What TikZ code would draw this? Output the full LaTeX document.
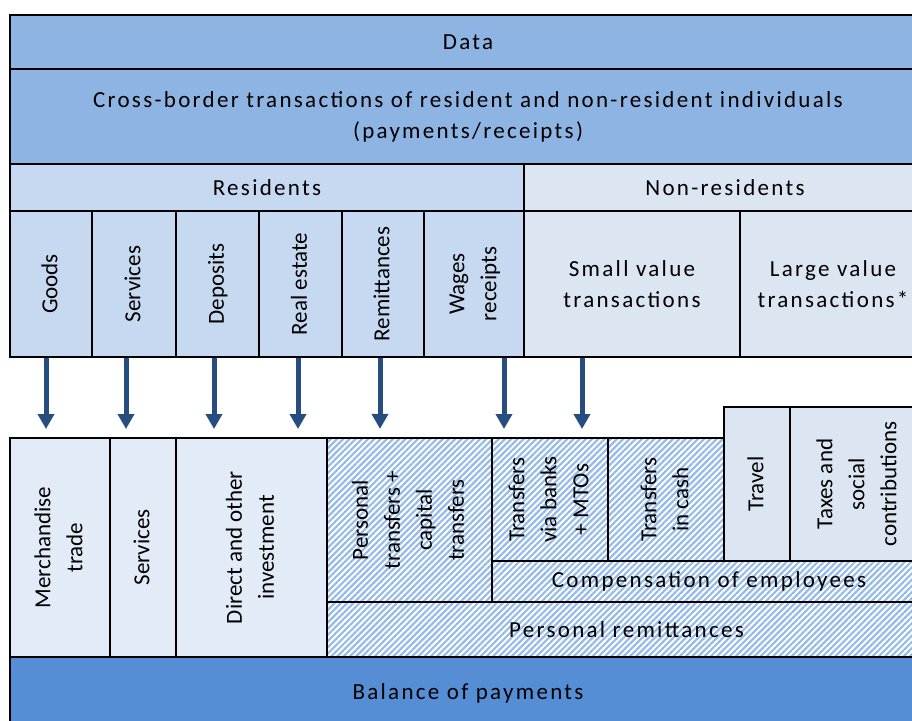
\documentclass[tikz,border=0pt]{standalone}
\usepackage{fontspec}
\setmainfont{Carlito}
\newfontfamily\spaced{Carlito}[LetterSpace=10]
\usepackage{graphicx}
\usetikzlibrary{arrows.meta, fit, patterns.meta}

\definecolor{topblue}{HTML}{8EB4E3}
\definecolor{resblue}{HTML}{C6D9F1}
\definecolor{nonblue}{HTML}{DCE6F2}
\definecolor{dotblue}{HTML}{E2EBF7}
\definecolor{hatchblue}{HTML}{96BBE8}
\definecolor{bopblue}{HTML}{558ED5}
\definecolor{arrowblue}{HTML}{264D80}

\newcommand{\vtext}[1]{\rotatebox{90}{\begin{tabular}{@{}c@{}}#1\end{tabular}}}

\tikzset{
  box/.style={draw, line width=1pt, inner sep=0pt},
  txt/.style={inner sep=0pt, font=\fontsize{11.5}{16}\selectfont},
  wide/.style={inner sep=0pt, align=center, font=\spaced\fontsize{11.5}{15.5}\selectfont},
  hatched/.style={box, preaction={fill=white},
    pattern={Lines[angle=45, distance=2.2pt, line width=1.1pt]}, pattern color=hatchblue},
  flow/.style={line width=2.5pt, draw=arrowblue,
    -{Triangle[width=8pt, length=7.5pt]}, shorten >=4pt}
}

\begin{document}
\begin{tikzpicture}[x=0.5pt, y=-0.5pt]
  \clip (0,0) rectangle (912,720);

  % data side
  \node[box, fill=topblue, fit={(10,15) (926,69)}] (data) {};
  \node[box, fill=topblue, fit={(10,69) (926,164)}] (cross) {};
  \node[box, fill=resblue, fit={(10,164) (524,211)}] (res) {};
  \node[box, fill=nonblue, fit={(524,164) (926,211)}] (nonres) {};
  \node[box, fill=resblue, fit={(10,211) (92,357)}] (goods) {};
  \node[box, fill=resblue, fit={(92,211) (176,357)}] (serv) {};
  \node[box, fill=resblue, fit={(176,211) (259,357)}] (depo) {};
  \node[box, fill=resblue, fit={(259,211) (342,357)}] (estate) {};
  \node[box, fill=resblue, fit={(342,211) (424,357)}] (remit) {};
  \node[box, fill=resblue, fit={(424,211) (524,357)}] (wages) {};
  \node[box, fill=nonblue, fit={(524,211) (740,357)}] (small) {};
  \node[box, fill=nonblue, fit={(740,211) (926,357)}] (large) {};

  \node[wide] (data-t) at (data) {Data};
  \node[wide] (cross-t) at (cross)
    {Cross-border transactions of resident and non-resident individuals\\(payments/receipts)};
  \node[wide] (res-t) at (res) {Residents};
  \node[wide] (nonres-t) at (nonres) {Non-residents};
  \node[txt] (goods-t) at (goods) {\vtext{Goods}};
  \node[txt] (serv-t) at (serv) {\vtext{Services}};
  \node[txt] (depo-t) at (depo) {\vtext{Deposits}};
  \node[txt] (estate-t) at (estate) {\vtext{Real estate}};
  \node[txt] (remit-t) at (remit) {\vtext{Remittances}};
  \node[txt] (wages-t) at (wages) {\vtext{Wages\\receipts}};
  \node[wide] (small-t) at (small) {Small value\\transactions};
  \node[wide] (large-t) at (large) {Large value\\transactions*};

  % balance of payments side
  \node[box, fill=dotblue, fit={(10,438) (110,657)}] (merch) {};
  \node[box, fill=dotblue, fit={(110,438) (176,657)}] (servb) {};
  \node[box, fill=dotblue, fit={(176,438) (327,657)}] (invest) {};
  \node[hatched, fit={(327,438) (492,602)}] (perstr) {};
  \node[hatched, fit={(492,438) (608,561)}] (banks) {};
  \node[hatched, fit={(608,438) (724,561)}] (cash) {};
  \node[box, fill=nonblue, fit={(724,407) (790,561)}] (travel) {};
  \node[box, fill=nonblue, fit={(790,407) (926,561)}] (taxes) {};
  \node[hatched, fit={(492,561) (926,602)}] (comp) {};
  \node[hatched, fit={(327,602) (926,657)}] (persrem) {};
  \node[box, fill=bopblue, fit={(10,657) (926,730)}] (bop) {};

  \node[txt] (merch-t) at (merch) {\vtext{Merchandise\\trade}};
  \node[txt] (servb-t) at (servb) {\vtext{Services}};
  \node[txt] (invest-t) at (invest) {\vtext{Direct and other\\investment}};
  \node[txt] (perstr-t) at (perstr) {\vtext{Personal\\transfers +\\capital\\transfers}};
  \node[txt] (banks-t) at (banks) {\vtext{Transfers\\via banks\\+ MTOs}};
  \node[txt] (cash-t) at (cash) {\vtext{Transfers\\in cash}};
  \node[txt] (travel-t) at (travel) {\vtext{Travel}};
  \node[txt] (taxes-t) at (taxes) {\vtext{Taxes and\\social\\contributions}};
  \node[wide] (comp-t) at (comp) {Compensation of employees};
  \node[wide] (persrem-t) at (persrem) {Personal remittances};
  \node[wide] (bop-t) at (bop) {Balance of payments};

  \foreach \a/\b/\x in {goods/merch/46, serv/servb/126, depo/invest/214, estate/invest/298,
      remit/perstr/380, wages/banks/504, small/banks/582}
    \draw[flow] (\x,0 |- \a.south) -- (\x,0 |- \b.north);
\end{tikzpicture}
\end{document}
